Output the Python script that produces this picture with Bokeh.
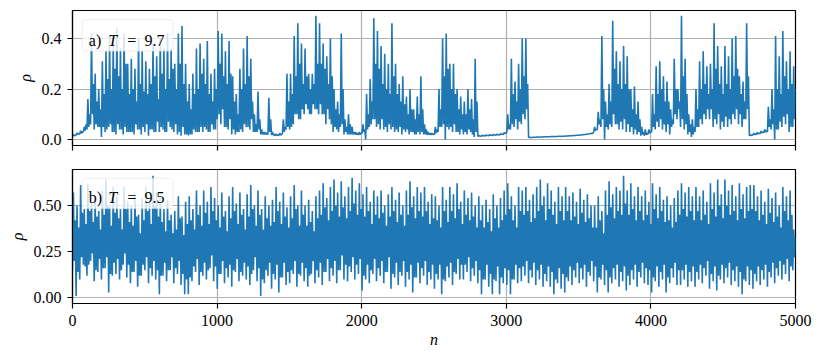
import numpy as np
from bokeh.plotting import figure
from bokeh.layouts import column
from bokeh.models import Range1d, FixedTicker, BoxAnnotation, Label
from bokeh.embed import file_html
from bokeh.resources import INLINE

# ---------------- data ----------------
n_max = 5000
x_ticks = [0, 1000, 2000, 3000, 4000, 5000]
x_labels = ["0", "1000", "2000", "3000", "4000", "5000"]
top_yticks = [0.0, 0.2, 0.4]
top_ylabels = ["0.0", "0.2", "0.4"]
bot_yticks = [0.0, 0.25, 0.5]
bot_ylabels = ["0.00", "0.25", "0.50"]

# panel a) T = 9.7 : per 25-step bin, main low/high and secondary low/high of rho
top_lo = [
    0.013, 0.018, 0.022, 0.030,  0.040, 0.060, 0.040, 0.050,
    0.010, 0.030, 0.050, 0.030,  0.020, 0.040, 0.020, 0.030,
    0.030, 0.020, 0.040, 0.020,  0.030, 0.015, 0.040, 0.030,
    0.030, 0.040, 0.030, 0.050,  0.030, 0.020, 0.015, 0.020,
    0.016, 0.020, 0.030, 0.030,  0.030, 0.040, 0.030, 0.040,
    0.080, 0.060, 0.050, 0.040,  0.020, 0.020, 0.030, 0.030,
    0.050, 0.040, 0.030, 0.030,  0.020, 0.020, 0.020, 0.018,
    0.015, 0.016, 0.025, 0.040,  0.040, 0.060, 0.100, 0.080,
    0.100, 0.120, 0.100, 0.120,  0.100, 0.100, 0.060, 0.080,
    0.030, 0.040, 0.050, 0.020,  0.020, 0.020, 0.020, 0.018,
    0.025, 0.000, 0.050, 0.080,  0.050, 0.040, 0.040, 0.030,
    0.040, 0.030, 0.030, 0.020,  0.030, 0.020, 0.030, 0.020,
    0.020, 0.020, 0.018, 0.018,  0.020, 0.030, 0.050, 0.000,
    0.040, 0.030, 0.030, 0.020,  0.020, 0.020, 0.030, 0.010,
    0.012, 0.013, 0.014, 0.015,  0.016, 0.017, 0.018, 0.020,
    0.030, 0.040, 0.050, 0.040,  0.060, 0.080, 0.008, 0.008,
    0.009, 0.009, 0.010, 0.010,  0.011, 0.011, 0.012, 0.012,
    0.013, 0.014, 0.015, 0.016,  0.017, 0.019, 0.021, 0.023,
    0.030, 0.040, 0.050, 0.000,  0.040, 0.050, 0.060, 0.040,
    0.040, 0.030, 0.030, 0.020,  0.020, 0.015, 0.015, 0.020,
    0.030, 0.040, 0.050, 0.040,  0.030, 0.020, 0.060, 0.080,
    0.050, 0.040, 0.020, 0.010,  0.030, 0.050, 0.060, 0.080,
    0.080, 0.050, 0.060, 0.040,  0.050, 0.050, 0.060, 0.080,
    0.060, 0.050, 0.080, 0.015,  0.018, 0.020, 0.024, 0.028,
    0.030, 0.040, 0.000, 0.040,  0.050, 0.060, 0.030, 0.050,
]
top_hi = [
    0.020, 0.026, 0.035, 0.050,  0.160, 0.420, 0.260, 0.200,
    0.310, 0.350, 0.400, 0.380,  0.440, 0.360, 0.420, 0.300,
    0.320, 0.280, 0.400, 0.350,  0.310, 0.280, 0.380, 0.330,
    0.400, 0.360, 0.420, 0.360,  0.300, 0.420, 0.450, 0.300,
    0.220, 0.260, 0.360, 0.380,  0.320, 0.390, 0.260, 0.280,
    0.430, 0.420, 0.350, 0.390,  0.250, 0.180, 0.280, 0.360,
    0.410, 0.320, 0.100, 0.190,  0.040, 0.030, 0.165, 0.030,
    0.022, 0.025, 0.080, 0.260,  0.260, 0.410, 0.460, 0.380,
    0.360, 0.260, 0.260, 0.490,  0.460, 0.380, 0.330, 0.400,
    0.200, 0.150, 0.420, 0.080,  0.100, 0.050, 0.030, 0.030,
    0.060, 0.180, 0.240, 0.480,  0.430, 0.370, 0.340, 0.300,
    0.460, 0.300, 0.220, 0.250,  0.170, 0.200, 0.120, 0.170,
    0.250, 0.060, 0.030, 0.025,  0.050, 0.200, 0.400, 0.420,
    0.300, 0.300, 0.200, 0.170,  0.150, 0.200, 0.160, 0.320,
    0.016, 0.017, 0.018, 0.019,  0.020, 0.021, 0.023, 0.027,
    0.100, 0.320, 0.230, 0.300,  0.400, 0.400, 0.009, 0.009,
    0.010, 0.010, 0.011, 0.011,  0.012, 0.012, 0.013, 0.013,
    0.014, 0.015, 0.016, 0.017,  0.018, 0.020, 0.022, 0.025,
    0.050, 0.110, 0.410, 0.150,  0.220, 0.470, 0.350, 0.310,
    0.370, 0.330, 0.200, 0.210,  0.150, 0.050, 0.040, 0.040,
    0.180, 0.290, 0.310, 0.250,  0.230, 0.120, 0.320, 0.200,
    0.490, 0.320, 0.100, 0.080,  0.200, 0.310, 0.350, 0.290,
    0.300, 0.460, 0.370, 0.290,  0.370, 0.330, 0.400, 0.410,
    0.250, 0.230, 0.460, 0.020,  0.025, 0.028, 0.033, 0.040,
    0.130, 0.200, 0.410, 0.330,  0.430, 0.310, 0.350, 0.290,
]
top_lo2 = [
    0.015, 0.020, 0.025, 0.035,  0.050, 0.100, 0.060, 0.050,
    0.050, 0.040, 0.060, 0.030,  0.060, 0.040, 0.050, 0.030,
    0.030, 0.060, 0.040, 0.050,  0.060, 0.040, 0.030, 0.070,
    0.050, 0.030, 0.070, 0.040,  0.060, 0.030, 0.050, 0.020,
    0.020, 0.040, 0.030, 0.050,  0.050, 0.030, 0.060, 0.040,
    0.100, 0.120, 0.050, 0.080,  0.040, 0.030, 0.040, 0.060,
    0.050, 0.080, 0.030, 0.040,  0.020, 0.020, 0.030, 0.018,
    0.016, 0.018, 0.030, 0.050,  0.050, 0.100, 0.080, 0.120,
    0.140, 0.100, 0.140, 0.120,  0.140, 0.100, 0.120, 0.060,
    0.050, 0.030, 0.060, 0.030,  0.020, 0.020, 0.019, 0.020,
    0.030, 0.040, 0.060, 0.080,  0.060, 0.080, 0.050, 0.060,
    0.050, 0.040, 0.050, 0.040,  0.040, 0.030, 0.020, 0.030,
    0.030, 0.020, 0.020, 0.020,  0.025, 0.050, 0.060, 0.050,
    0.050, 0.060, 0.030, 0.040,  0.030, 0.040, 0.020, 0.030,
    0.014, 0.015, 0.016, 0.017,  0.018, 0.019, 0.021, 0.024,
    0.040, 0.060, 0.080, 0.070,  0.100, 0.120, 0.008, 0.009,
    0.010, 0.010, 0.011, 0.011,  0.012, 0.012, 0.013, 0.013,
    0.014, 0.015, 0.016, 0.017,  0.018, 0.020, 0.022, 0.024,
    0.035, 0.060, 0.080, 0.050,  0.060, 0.100, 0.060, 0.070,
    0.080, 0.060, 0.050, 0.040,  0.030, 0.020, 0.018, 0.025,
    0.050, 0.070, 0.080, 0.060,  0.060, 0.050, 0.100, 0.120,
    0.080, 0.060, 0.030, 0.020,  0.050, 0.080, 0.100, 0.120,
    0.120, 0.080, 0.100, 0.070,  0.090, 0.080, 0.100, 0.120,
    0.100, 0.080, 0.120, 0.016,  0.020, 0.022, 0.026, 0.030,
    0.050, 0.060, 0.040, 0.070,  0.090, 0.100, 0.050, 0.080,
]
top_hi2 = [
    0.017, 0.023, 0.030, 0.060,  0.100, 0.220, 0.150, 0.120,
    0.180, 0.240, 0.200, 0.280,  0.250, 0.200, 0.300, 0.180,
    0.200, 0.150, 0.220, 0.190,  0.180, 0.220, 0.250, 0.160,
    0.260, 0.200, 0.240, 0.280,  0.200, 0.300, 0.220, 0.150,
    0.120, 0.180, 0.200, 0.260,  0.220, 0.180, 0.150, 0.200,
    0.300, 0.250, 0.220, 0.260,  0.150, 0.100, 0.200, 0.220,
    0.250, 0.150, 0.060, 0.080,  0.030, 0.025, 0.080, 0.020,
    0.018, 0.020, 0.050, 0.150,  0.180, 0.250, 0.300, 0.220,
    0.250, 0.200, 0.220, 0.300,  0.300, 0.280, 0.220, 0.250,
    0.120, 0.100, 0.200, 0.050,  0.060, 0.030, 0.025, 0.025,
    0.040, 0.100, 0.150, 0.300,  0.280, 0.220, 0.200, 0.180,
    0.250, 0.180, 0.150, 0.140,  0.100, 0.120, 0.080, 0.100,
    0.120, 0.040, 0.025, 0.022,  0.040, 0.120, 0.250, 0.280,
    0.200, 0.180, 0.120, 0.100,  0.100, 0.120, 0.080, 0.150,
    0.014, 0.015, 0.016, 0.017,  0.018, 0.019, 0.021, 0.024,
    0.060, 0.180, 0.150, 0.200,  0.250, 0.220, 0.008, 0.009,
    0.010, 0.010, 0.011, 0.011,  0.012, 0.012, 0.013, 0.013,
    0.014, 0.015, 0.016, 0.017,  0.018, 0.020, 0.022, 0.024,
    0.040, 0.080, 0.200, 0.100,  0.150, 0.280, 0.220, 0.200,
    0.220, 0.200, 0.120, 0.100,  0.080, 0.030, 0.025, 0.030,
    0.100, 0.180, 0.200, 0.150,  0.150, 0.080, 0.200, 0.150,
    0.250, 0.180, 0.060, 0.050,  0.120, 0.200, 0.220, 0.180,
    0.200, 0.280, 0.220, 0.180,  0.220, 0.200, 0.250, 0.280,
    0.180, 0.150, 0.250, 0.017,  0.022, 0.025, 0.030, 0.035,
    0.080, 0.120, 0.200, 0.180,  0.250, 0.200, 0.220, 0.200,
]

# panel b) T = 9.5
bot_lo = [
    0.15, 0.01, 0.10, 0.18,  0.12, 0.20, 0.09, 0.14,
    0.10, 0.16, 0.03, 0.12,  0.13, 0.10, 0.18, 0.11,
    0.08, 0.14, 0.06, 0.12,  0.15, 0.08, 0.12, 0.10,
    0.02, 0.12, 0.09, 0.15,  0.08, 0.13, 0.07, 0.02,
    0.02, 0.09, 0.14, 0.07,  0.12, 0.10, 0.16, 0.09,
    0.05, 0.13, 0.08, 0.11,  0.06, 0.14, 0.09, 0.12,
    0.10, 0.07, 0.15, 0.09,  0.01, 0.08, 0.12, 0.05,
    0.10, 0.03, 0.11, 0.07,  0.08, 0.13, 0.06, 0.12,
    0.09, 0.06, 0.13, 0.08,  0.11, 0.07, 0.14, 0.09,
    0.12, 0.08, 0.15, 0.10,  0.09, 0.14, 0.10, 0.13,
    0.04, 0.10, 0.08, 0.13,  0.09, 0.12, 0.08, 0.14,
    0.05, 0.11, 0.07, 0.12,  0.06, 0.10, 0.03, 0.11,
    0.08, 0.12, 0.07, 0.10,  0.05, 0.10, 0.02, 0.09,
    0.11, 0.07, 0.13, 0.10,  0.10, 0.14, 0.09, 0.12,
    0.08, 0.02, 0.10, 0.06,  0.02, 0.09, 0.02, 0.08,
    0.07, 0.02, 0.10, 0.08,  0.09, 0.12, 0.08, 0.11,
    0.07, 0.10, 0.06, 0.09,  0.06, 0.02, 0.08, 0.05,
    0.03, 0.09, 0.07, 0.11,  0.08, 0.10, 0.06, 0.12,
    0.09, 0.03, 0.10, 0.07,  0.03, 0.08, 0.10, 0.06,
    0.09, 0.04, 0.07, 0.10,  0.06, 0.11, 0.08, 0.07,
    0.03, 0.09, 0.06, 0.10,  0.03, 0.08, 0.11, 0.07,
    0.07, 0.10, 0.06, 0.09,  0.06, 0.10, 0.08, 0.12,
    0.05, 0.09, 0.04, 0.10,  0.08, 0.11, 0.07, 0.09,
    0.06, 0.02, 0.09, 0.07,  0.05, 0.09, 0.07, 0.10,
    0.06, 0.11, 0.08, 0.12,  0.10, 0.13, 0.09, 0.15,
]
bot_hi = [
    0.57, 0.50, 0.61, 0.48,  0.62, 0.52, 0.55, 0.47,
    0.58, 0.64, 0.50, 0.60,  0.55, 0.48, 0.60, 0.52,
    0.50, 0.56, 0.45, 0.54,  0.60, 0.52, 0.66, 0.57,
    0.55, 0.48, 0.53, 0.45,  0.47, 0.55, 0.44, 0.52,
    0.55, 0.48, 0.58, 0.50,  0.58, 0.52, 0.60, 0.54,
    0.50, 0.57, 0.47, 0.55,  0.60, 0.51, 0.57, 0.48,
    0.56, 0.61, 0.50, 0.58,  0.48, 0.55, 0.50, 0.53,
    0.60, 0.52, 0.57, 0.49,  0.55, 0.61, 0.50, 0.58,
    0.50, 0.53, 0.47, 0.55,  0.58, 0.62, 0.54, 0.60,
    0.64, 0.57, 0.63, 0.55,  0.60, 0.65, 0.58, 0.62,
    0.56, 0.60, 0.52, 0.58,  0.55, 0.58, 0.50, 0.56,
    0.60, 0.53, 0.57, 0.50,  0.58, 0.63, 0.55, 0.60,
    0.57, 0.60, 0.52, 0.56,  0.55, 0.50, 0.60, 0.53,
    0.60, 0.56, 0.62, 0.52,  0.58, 0.54, 0.57, 0.50,
    0.55, 0.50, 0.53, 0.48,  0.56, 0.50, 0.54, 0.58,
    0.62, 0.55, 0.50, 0.60,  0.58, 0.60, 0.53, 0.56,
    0.60, 0.64, 0.55, 0.62,  0.58, 0.52, 0.60, 0.55,
    0.60, 0.55, 0.57, 0.52,  0.59, 0.53, 0.56, 0.50,
    0.50, 0.55, 0.47, 0.58,  0.63, 0.56, 0.60, 0.58,
    0.66, 0.58, 0.62, 0.55,  0.60, 0.55, 0.58, 0.52,
    0.62, 0.56, 0.60, 0.53,  0.55, 0.50, 0.54, 0.58,
    0.62, 0.57, 0.60, 0.55,  0.60, 0.55, 0.58, 0.52,
    0.62, 0.57, 0.64, 0.56,  0.64, 0.58, 0.61, 0.55,
    0.62, 0.56, 0.60, 0.61,  0.61, 0.55, 0.58, 0.52,
    0.59, 0.54, 0.57, 0.50,  0.60, 0.55, 0.58, 0.37,
]
bot_lo2 = [
    0.20, 0.14, 0.22, 0.17,  0.18, 0.24, 0.15, 0.21,
    0.16, 0.22, 0.13, 0.19,  0.21, 0.15, 0.24, 0.18,
    0.14, 0.20, 0.12, 0.18,  0.22, 0.16, 0.20, 0.15,
    0.12, 0.19, 0.15, 0.22,  0.16, 0.20, 0.13, 0.10,
    0.11, 0.17, 0.21, 0.14,  0.19, 0.15, 0.23, 0.17,
    0.13, 0.20, 0.16, 0.18,  0.15, 0.21, 0.14, 0.19,
    0.17, 0.13, 0.22, 0.16,  0.10, 0.15, 0.19, 0.13,
    0.18, 0.11, 0.19, 0.14,  0.15, 0.20, 0.13, 0.19,
    0.16, 0.12, 0.20, 0.15,  0.19, 0.14, 0.21, 0.16,
    0.20, 0.15, 0.23, 0.18,  0.17, 0.22, 0.18, 0.21,
    0.12, 0.18, 0.15, 0.21,  0.16, 0.20, 0.14, 0.22,
    0.13, 0.19, 0.14, 0.20,  0.14, 0.18, 0.11, 0.19,
    0.16, 0.20, 0.14, 0.18,  0.13, 0.18, 0.10, 0.17,
    0.19, 0.14, 0.21, 0.18,  0.18, 0.22, 0.16, 0.20,
    0.15, 0.10, 0.18, 0.13,  0.10, 0.17, 0.11, 0.16,
    0.15, 0.10, 0.18, 0.16,  0.17, 0.20, 0.15, 0.19,
    0.15, 0.18, 0.13, 0.17,  0.14, 0.10, 0.16, 0.13,
    0.11, 0.17, 0.15, 0.19,  0.16, 0.18, 0.14, 0.20,
    0.17, 0.11, 0.18, 0.15,  0.11, 0.16, 0.18, 0.14,
    0.17, 0.12, 0.15, 0.18,  0.14, 0.19, 0.16, 0.15,
    0.11, 0.17, 0.14, 0.18,  0.11, 0.16, 0.19, 0.15,
    0.15, 0.18, 0.14, 0.17,  0.14, 0.18, 0.16, 0.20,
    0.13, 0.17, 0.12, 0.18,  0.16, 0.19, 0.15, 0.17,
    0.14, 0.10, 0.17, 0.15,  0.13, 0.17, 0.15, 0.18,
    0.14, 0.19, 0.16, 0.20,  0.18, 0.21, 0.17, 0.22,
]
bot_hi2 = [
    0.42, 0.38, 0.46, 0.40,  0.47, 0.41, 0.44, 0.37,
    0.45, 0.50, 0.39, 0.46,  0.43, 0.37, 0.48, 0.41,
    0.39, 0.44, 0.35, 0.42,  0.47, 0.40, 0.50, 0.44,
    0.41, 0.36, 0.42, 0.35,  0.37, 0.43, 0.34, 0.40,
    0.42, 0.37, 0.45, 0.39,  0.46, 0.40, 0.47, 0.42,
    0.38, 0.44, 0.36, 0.43,  0.47, 0.40, 0.45, 0.37,
    0.44, 0.48, 0.39, 0.45,  0.37, 0.43, 0.39, 0.41,
    0.47, 0.40, 0.44, 0.38,  0.43, 0.48, 0.39, 0.45,
    0.39, 0.41, 0.36, 0.43,  0.45, 0.49, 0.42, 0.47,
    0.50, 0.44, 0.49, 0.43,  0.47, 0.51, 0.45, 0.48,
    0.44, 0.47, 0.40, 0.45,  0.43, 0.46, 0.39, 0.44,
    0.47, 0.41, 0.45, 0.39,  0.45, 0.49, 0.43, 0.47,
    0.44, 0.47, 0.40, 0.43,  0.42, 0.38, 0.47, 0.41,
    0.47, 0.43, 0.48, 0.40,  0.45, 0.42, 0.44, 0.38,
    0.42, 0.38, 0.41, 0.36,  0.43, 0.38, 0.42, 0.45,
    0.48, 0.42, 0.38, 0.47,  0.45, 0.47, 0.41, 0.43,
    0.47, 0.50, 0.42, 0.48,  0.45, 0.40, 0.47, 0.42,
    0.47, 0.42, 0.44, 0.40,  0.46, 0.41, 0.43, 0.38,
    0.38, 0.42, 0.35, 0.45,  0.49, 0.43, 0.47, 0.45,
    0.51, 0.45, 0.48, 0.42,  0.47, 0.42, 0.45, 0.40,
    0.48, 0.43, 0.47, 0.41,  0.42, 0.38, 0.41, 0.45,
    0.48, 0.44, 0.47, 0.42,  0.47, 0.42, 0.45, 0.40,
    0.48, 0.44, 0.50, 0.43,  0.50, 0.45, 0.47, 0.42,
    0.48, 0.43, 0.47, 0.48,  0.47, 0.42, 0.45, 0.40,
    0.46, 0.41, 0.44, 0.38,  0.47, 0.42, 0.45, 0.33,
]


def series(lo, hi, lo2, hi2):
    vals = np.empty(4 * len(lo))
    vals[0::4] = lo
    vals[1::4] = hi
    vals[2::4] = lo2
    vals[3::4] = hi2
    n = np.linspace(0, n_max, len(vals))
    return n, vals


FONT = "Liberation Serif"
BLUE = "#1f77b4"


def make_fig(height, yr, yticks, ylabels, b_top, b_bottom):
    p = figure(width=815, height=height,
               x_range=Range1d(0, n_max), y_range=Range1d(*yr),
               output_backend="svg", toolbar_location=None,
               min_border_left=72, min_border_right=20,
               min_border_top=b_top, min_border_bottom=b_bottom)
    p.outline_line_color = "black"
    p.outline_line_width = 1.2
    p.outline_line_alpha = 1.0
    for ax in (p.xaxis, p.yaxis):
        ax.axis_line_color = "black"
        ax.axis_line_width = 1.2
        ax.major_tick_line_color = "black"
        ax.major_tick_line_width = 1.2
        ax.major_tick_out = 5
        ax.major_tick_in = 0
        ax.minor_tick_line_color = None
        ax.major_label_text_font = FONT
        ax.major_label_text_font_size = "16px"
        ax.major_label_text_color = "black"
        ax.major_label_standoff = 6
        ax.axis_label_text_font = FONT
        ax.axis_label_text_font_size = "16px"
        ax.axis_label_text_font_style = "italic"
        ax.axis_label_text_color = "black"
    p.xaxis.ticker = FixedTicker(ticks=x_ticks)
    p.xaxis.major_label_overrides = dict(zip(x_ticks, x_labels))
    p.yaxis.ticker = FixedTicker(ticks=yticks)
    p.yaxis.major_label_overrides = dict(zip(yticks, ylabels))
    p.yaxis.axis_label = "ρ"
    p.yaxis.axis_label_standoff = 5
    for g in (p.xgrid, p.ygrid):
        g.grid_line_color = "#b0b0b0"
        g.grid_line_width = 1.2
    return p


def add_legend(p, prefix, tval, box, base):
    left, right, top, bottom = box
    p.add_layout(BoxAnnotation(left=left, right=right, top=top, bottom=bottom,
                               fill_color="white", fill_alpha=0.8,
                               line_color="#cccccc", line_width=1.2,
                               border_radius=4))
    for x, txt, style in ((113, prefix, "normal"), (247, "T", "italic"),
                          (378, "=", "normal"), (498, tval, "normal")):
        p.add_layout(Label(x=x, y=base, text=txt, text_font=FONT,
                           text_font_size="16px", text_font_style=style,
                           text_color="black", text_baseline="alphabetic",
                           text_align="left"))


# top panel (x tick marks only, labels shared with bottom panel)
p1 = make_fig(158, (-0.0238, 0.511), top_yticks, top_ylabels, 10, 13)
p1.xaxis.major_label_text_font_size = "0px"
p1.xaxis.major_label_text_color = None
p1.xaxis.major_label_standoff = 0
n1, v1 = series(top_lo, top_hi, top_lo2, top_hi2)
p1.line(n1, v1, line_color=BLUE, line_width=1.6)
add_legend(p1, "a)", "9.7", (67, 696, 0.4752, 0.3497), 0.394)

# bottom panel
p2 = make_fig(200, (-0.030, 0.694), bot_yticks, bot_ylabels, 11, 55)
p2.xaxis.axis_label = "n"
p2.xaxis.axis_label_standoff = 2
n2, v2 = series(bot_lo, bot_hi, bot_lo2, bot_hi2)
p2.line(n2, v2, line_color=BLUE, line_width=1.6)
add_legend(p2, "b)", "9.5", (67, 696, 0.647, 0.482), 0.5416)

layout = column(p1, p2, spacing=0)
open("out.html", "w").write(file_html(layout, INLINE))
